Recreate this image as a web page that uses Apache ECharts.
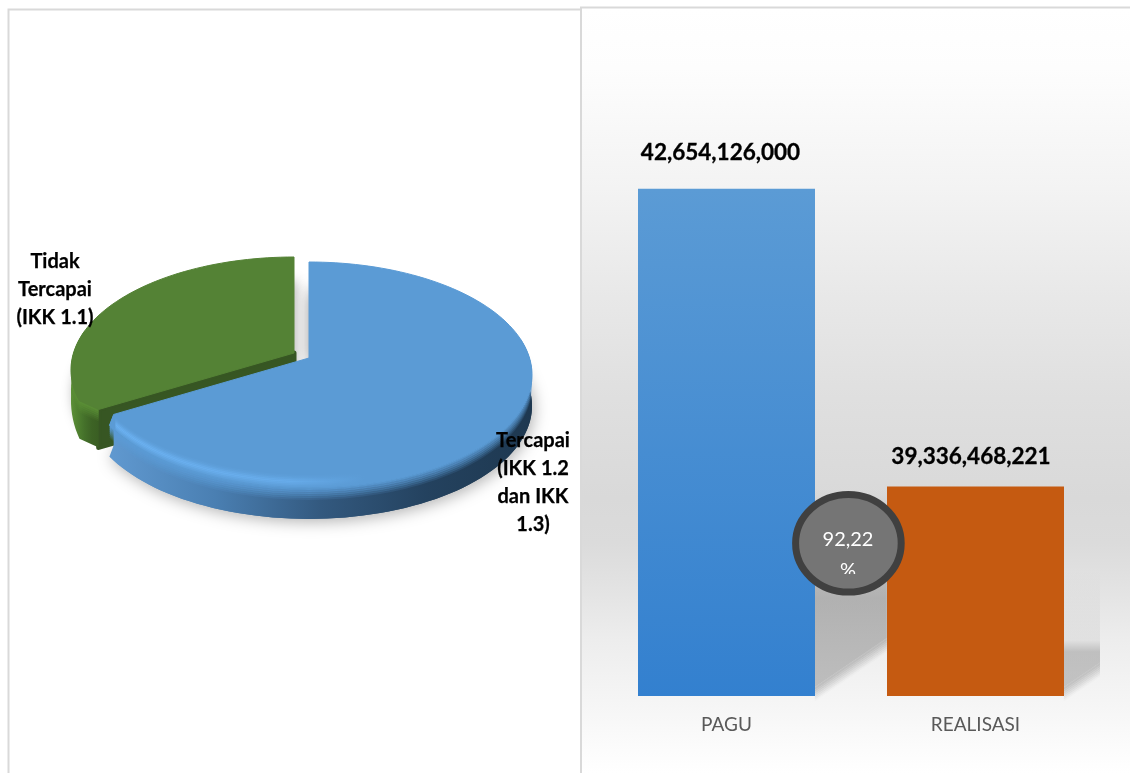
<!DOCTYPE html>
<html>
<head>
<meta charset="utf-8">
<script src="https://cdn.jsdelivr.net/npm/echarts@6/dist/echarts.min.js"></script>
<style>html,body{margin:0;padding:0;background:#fff}#chart{width:1130px;height:773px}</style>
</head>
<body>
<div id="chart"></div>
<script>
// Indicator achievement (share of IKK targets)
const pieNames = ['Tercapai\n(IKK 1.2\ndan IKK\n1.3)', 'Tidak\nTercapai\n(IKK 1.1)'];
const pieValues = [2, 1];

// Budget versus realised spending
const budgetNames = ['PAGU', 'REALISASI'];
const budgetValues = [42654126000, 39336468221];
const absorptionLabel = ['92,22', '%'];

const FONT = 'Lato, Carlito, "Open Sans", sans-serif';
const AXIS_MIN = 37000000000;

// Tilted-disc projection: angle is clockwise from the far edge of the disc
const K = 0.15, RX = 220.5, RY = 110.4;
const pieStyle = [
  { ax: 309, ay: 358, depth: 31, top: '#5B9BD5', rim: '#5B9BD5', label: [533, 483],
    wall: ['#6099d0', '#4a7fb2', '#33597f', '#24425f', '#1e3850'] },
  { ax: 294, ay: 353, depth: 38, top: '#548235', rim: '#5c9037', label: [55, 290],
    wall: ['#5c9037', '#4f8030', '#44702a', '#3d6325', '#3a5e23'] }
];

function project(s, deg, r) {
  const t = deg * Math.PI / 180, u = Math.sin(t) * r, v = -Math.cos(t) * r, w = 1 - K * v;
  return [s.ax + RX * u / w, s.ay + RY * v / w];
}
function arc(s, from, to) {
  const pts = [], n = Math.max(2, Math.ceil(Math.abs(to - from) / 2));
  for (let i = 0; i <= n; i++) pts.push(project(s, from + (to - from) * i / n, 1));
  return pts;
}
function ring(a, d0, d1) {
  const up = a.map(p => [p[0], p[1] + d0]);
  const down = a.map(p => [p[0], p[1] + d1]).reverse();
  return up.concat(down);
}
function hGrad(stops) {
  return new echarts.graphic.LinearGradient(0, 0, 1, 0, stops.map((c, i) => ({ offset: i / (stops.length - 1), color: c })));
}

function renderSlice(params, api) {
  const i = params.dataIndex, s = pieStyle[i], large = i === 0;
  const total = pieValues.reduce((a, b) => a + b, 0);
  let start = 0;
  for (let j = 0; j < i; j++) start += api.value(0, j) / total * 360;
  const end = start + api.value(0) / total * 360;
  const base = large ? 10 : 1;
  const children = [];

  // Top face: the corner where the cut meets the rim is softened
  const cutAngle = large ? end : start;
  const tip = project(s, cutAngle, 0.95);
  const rimPts = large ? arc(s, start, end - 4) : arc(s, start + 6, end);
  const facePts = large ? [[s.ax, s.ay]].concat(rimPts, [tip]) : [[s.ax, s.ay], tip].concat(rimPts);
  const wallArc = large ? arc(s, 80, end - 4) : arc(s, start + 6, 282);
  const front = large ? wallArc.concat([tip]) : [tip].concat(wallArc);

  // Wall outline drops straight down from the softened corner; the raised
  // slice's wall tapers towards its outermost point
  const corner = large ? wallArc[wallArc.length - 1] : wallArc[0];
  const cornerFoot = [tip[0], Math.max(corner[1], tip[1]) + s.depth];
  const wallFoot = wallArc.map((p, n) => [
    p[0],
    p[1] + (large ? s.depth : s.depth * (1 - 0.45 * n / (wallArc.length - 1)))
  ]);
  const wallPts = large
    ? wallArc.concat([tip, cornerFoot]).concat(wallFoot.slice().reverse())
    : [tip].concat(wallArc).concat(wallFoot.slice().reverse(), [cornerFoot]);

  // Cast shadow below the disc
  const shadowDrop = large ? s.depth : s.depth * 0.55;
  children.push({
    type: 'polygon', z2: 0,
    shape: { points: facePts.map(p => [p[0], p[1] + shadowDrop]) },
    style: { fill: hGrad(s.wall), shadowBlur: large ? 15 : 12, shadowColor: 'rgba(0,0,0,0.3)', shadowOffsetX: 2, shadowOffsetY: 3 }
  });
  if (large) {
    // Faint shadow behind the upright back edge
    const far = project(s, start, 0.7);
    children.push({
      type: 'polygon', z2: 0,
      shape: { points: [[s.ax, s.ay], far, [far[0] + 6, far[1]], [s.ax + 6, s.ay]] },
      style: { fill: s.top, shadowBlur: 14, shadowColor: 'rgba(0,0,0,0.3)' }
    });
  } else {
    // Cut face of the raised slice
    children.push({
      type: 'polygon', z2: base + 1,
      shape: { points: [[s.ax, s.ay], tip, cornerFoot, [s.ax, s.ay + s.depth]] },
      style: { fill: '#375623', stroke: '#375623', lineWidth: 5, lineJoin: 'round' }
    });
  }

  // Outer wall
  children.push({
    type: 'polygon', z2: base + 2,
    shape: { points: wallPts },
    style: { fill: hGrad(s.wall) }
  });

  // Rounded bevel fading from the top face down the wall
  const steps = 6;
  for (let b = 0; b < steps; b++) {
    children.push({
      type: 'polygon', z2: base + 3,
      shape: { points: ring(front, b * 2 - 0.5, (b + 1) * 2) },
      style: { fill: s.rim, opacity: 0.9 * (1 - b / steps) }
    });
  }

  // Top face
  children.push({
    type: 'polygon', z2: base + 4,
    shape: { points: facePts },
    style: { fill: s.top, stroke: s.top, lineWidth: 1, lineJoin: 'round' }
  });

  // Specular streak on the near-left part of the rim
  if (large) {
    const streak = arc(s, 80, end - 7);
    const fade = [0.08, 0.2, 0.4, 0.62, 0.75, 0.62, 0.4, 0.2];
    fade.forEach((o, b) => {
      children.push({
        type: 'polygon', z2: base + 5,
        shape: { points: ring(streak, -13 + b * 1.5, -11.5 + b * 1.5) },
        style: {
          opacity: o,
          fill: new echarts.graphic.LinearGradient(0, 0, 1, 0, [
            { offset: 0, color: 'rgba(112,184,250,1)' },
            { offset: 0.42, color: 'rgba(112,184,250,0.75)' },
            { offset: 0.6, color: 'rgba(112,184,250,0)' },
            { offset: 1, color: 'rgba(112,184,250,0)' }
          ])
        }
      });
    });
  }
  return { type: 'group', children };
}

function renderLabel(params, api) {
  const i = params.dataIndex, s = pieStyle[i];
  return {
    type: 'text', z2: 30,
    style: {
      text: pieNames[i], x: s.label[0], y: s.label[1],
      textAlign: 'center', textVerticalAlign: 'middle',
      fontFamily: FONT, fontSize: 20, fontWeight: 700, lineHeight: 28, fill: '#000',
      stroke: '#000', lineWidth: 0.25
    }
  };
}

// Soft slanted shadow thrown to the right of each bar
function renderBarShadow(params, api) {
  const topPt = api.coord([api.value(0), api.value(1)]);
  const floor = api.coord([api.value(0), AXIS_MIN])[1];
  const halfBar = api.size([1, 0])[0] * 0.355;
  const gridRight = params.coordSys.x + params.coordSys.width;
  const left = topPt[0] + halfBar;
  const right = Math.min(left + 72, gridRight);
  const spread = right - left;
  const first = params.dataIndex === 0;
  const upper = first ? floor - 206 : floor - 126;
  const lift = spread * 0.68;
  const strength = first ? 0.5 : 0.46;
  const grey = a => 'rgba(136,136,136,' + a + ')';
  const soft = 14;
  const edgeL = floor - 2, edgeR = floor - 2 - lift;
  const children = [{
    type: 'polygon',
    shape: { points: [[left, upper], [right, upper], [right, edgeR - soft / 2], [left, edgeL - soft / 2]] },
    style: {
      fill: new echarts.graphic.LinearGradient(0, 0, 0, 1, first ? [
        { offset: 0, color: grey(0) },
        { offset: 0.55, color: grey(0.56) },
        { offset: 1, color: grey(strength) }
      ] : [
        { offset: 0, color: grey(0) },
        { offset: 0.6, color: grey(0.12) },
        { offset: 0.7, color: grey(strength) },
        { offset: 1, color: grey(strength) }
      ])
    }
  }];
  // Feathered lower edge
  const strips = 7;
  for (let k = 0; k < strips; k++) {
    const a = -soft / 2 + k * soft / strips, b = a + soft / strips + 0.3;
    children.push({
      type: 'polygon',
      shape: { points: [[left, edgeL + a], [right, edgeR + a], [right, edgeR + b], [left, edgeL + b]] },
      style: { fill: grey(strength * (1 - (k + 0.5) / strips)) }
    });
  }
  return { type: 'group', children };
}

const chart = echarts.init(document.getElementById('chart'), null, { renderer: 'canvas' });
chart.setOption({
  animation: false,
  backgroundColor: '#fff',
  graphic: [
    // Right panel wash
    { type: 'rect', z: -10, shape: { x: 581, y: 7, width: 549, height: 766 },
      style: { fill: new echarts.graphic.LinearGradient(0, 0, 0, 1, [
        { offset: 0, color: '#ffffff' },
        { offset: 0.08, color: '#fdfdfd' },
        { offset: 0.237, color: '#f3f3f3' },
        { offset: 0.38, color: '#e8e8e8' },
        { offset: 0.51, color: '#dfdfdf' },
        { offset: 0.64, color: '#d9d9d9' },
        { offset: 0.7, color: '#dbdbdb' },
        { offset: 0.76, color: '#e3e3e3' },
        { offset: 0.826, color: '#ededed' },
        { offset: 0.905, color: '#f5f5f5' },
        { offset: 1, color: '#ffffff' }
      ]) } },
    // Panel frames
    { type: 'polyline', z: -5, shape: { points: [[8.5, 773], [8.5, 9.5], [580, 9.5]] }, style: { stroke: '#d9d9d9', lineWidth: 2, fill: null } },
    { type: 'polyline', z: -5, shape: { points: [[581, 773], [581, 7.5], [1130, 7.5]] }, style: { stroke: '#d9d9d9', lineWidth: 2, fill: null } },
    // Absorption badge between the two bars
    { type: 'ellipse', z: 20, shape: { cx: 848.4, cy: 543.3, rx: 52.8, ry: 48.8 }, style: { fill: '#757575', stroke: '#404040', lineWidth: 7 } },
    { type: 'text', z: 21, style: { text: absorptionLabel[0], x: 848, y: 540, textAlign: 'center', textVerticalAlign: 'middle', fontFamily: FONT, fontSize: 20, fill: '#fff' } },
    { type: 'text', z: 21, style: { text: absorptionLabel[1], x: 848, y: 571, textAlign: 'center', textVerticalAlign: 'middle', fontFamily: FONT, fontSize: 20, fill: '#fff' } },
    // The second line of the badge text is cut off by its box
    { type: 'rect', z: 22, shape: { x: 836, y: 574, width: 26, height: 12 }, style: { fill: '#757575' } }
  ],
  grid: { left: 602, width: 498, top: 68, height: 628 },
  xAxis: {
    type: 'category', data: budgetNames,
    axisLine: { show: false }, axisTick: { show: false },
    axisLabel: { color: '#595959', fontFamily: FONT, fontSize: 19, margin: 19 }
  },
  yAxis: { type: 'value', min: AXIS_MIN, max: 44000000000, interval: 1000000000, show: false, splitLine: { show: false } },
  series: [
    {
      type: 'custom', coordinateSystem: 'none', silent: true, z: 3,
      data: pieValues.map(v => [v]),
      renderItem: renderSlice
    },
    {
      type: 'custom', coordinateSystem: 'none', silent: true, z: 4,
      data: pieValues.map(v => [v]),
      renderItem: renderLabel
    },
    {
      type: 'custom', silent: true, z: 1,
      data: budgetValues.map((v, i) => [i, v]),
      encode: { x: 0, y: 1 },
      renderItem: renderBarShadow
    },
    {
      type: 'bar', z: 2, barWidth: 177, silent: true,
      data: [
        { value: budgetValues[0],
          itemStyle: { color: new echarts.graphic.LinearGradient(0, 0, 0, 1, [{ offset: 0, color: '#5B9BD5' }, { offset: 1, color: '#3380CF' }]) },
          label: { offset: [-6, -6] } },
        { value: budgetValues[1], itemStyle: { color: '#C55A11' }, label: { offset: [-4.5, 0] } }
      ],
      label: {
        show: true, position: 'top', distance: 18,
        color: '#000', fontFamily: FONT, fontSize: 22.5, fontWeight: 700,
        textBorderColor: '#000', textBorderWidth: 0.3,
        formatter: p => p.value.toLocaleString('en-US')
      }
    }
  ]
});
</script>
</body>
</html>
